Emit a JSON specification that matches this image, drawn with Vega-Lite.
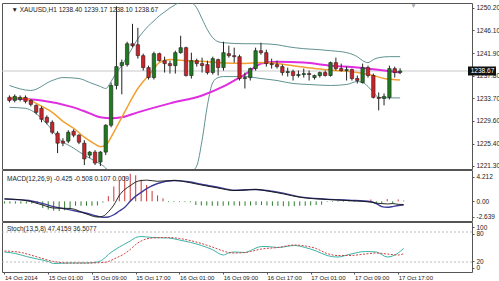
{
"$schema": "https://vega.github.io/schema/vega-lite/v6.json",
"padding": {"left": 1, "top": 2, "right": 0, "bottom": 0},
"background": "white",
"spacing": 1,
"bounds": "flush",
"config": {
  "view": {"stroke": "#555", "strokeWidth": 1},
  "font": "Liberation Sans",
  "axis": {"labelFont": "Liberation Sans", "labelFontSize": 6.5, "labelColor": "#222", "tickColor": "#555", "tickSize": 2, "labelPadding": 2, "domain": false, "grid": false, "title": null, "labelOverlap": false, "labelBound": false},
  "axisY": {"labelOverlap": false},
  "axisRight": {"labelOverlap": false},
  "axisQuantitative": {"labelOverlap": false},
  "text": {"font": "Liberation Sans"}
},
"resolve": {"scale": {"x": "independent", "y": "independent"}},
"datasets": {
  "cd": [
    {"i":0,"o":1233.84,"h":1234.20,"l":1232.93,"c":1233.29},
    {"i":1,"o":1233.29,"h":1234.38,"l":1232.93,"c":1234.02},
    {"i":2,"o":1233.47,"h":1234.20,"l":1233.11,"c":1233.84},
    {"i":3,"o":1233.84,"h":1234.20,"l":1232.75,"c":1233.11},
    {"i":4,"o":1233.29,"h":1233.47,"l":1232.20,"c":1232.56},
    {"i":5,"o":1232.38,"h":1232.56,"l":1230.75,"c":1231.11},
    {"i":6,"o":1231.84,"h":1232.20,"l":1229.29,"c":1229.84},
    {"i":7,"o":1230.20,"h":1230.56,"l":1228.93,"c":1229.29},
    {"i":8,"o":1229.29,"h":1229.65,"l":1227.11,"c":1227.47},
    {"i":9,"o":1227.29,"h":1227.65,"l":1223.65,"c":1225.47},
    {"i":10,"o":1225.84,"h":1226.38,"l":1224.93,"c":1225.47},
    {"i":11,"o":1225.84,"h":1227.84,"l":1225.47,"c":1227.47},
    {"i":12,"o":1227.65,"h":1228.02,"l":1226.56,"c":1226.93},
    {"i":13,"o":1226.93,"h":1227.11,"l":1225.29,"c":1225.65},
    {"i":14,"o":1225.47,"h":1226.02,"l":1221.47,"c":1222.60},
    {"i":15,"o":1223.29,"h":1224.02,"l":1222.75,"c":1223.84},
    {"i":16,"o":1223.84,"h":1224.20,"l":1221.47,"c":1221.84},
    {"i":17,"o":1222.02,"h":1224.02,"l":1221.29,"c":1223.84},
    {"i":18,"o":1223.84,"h":1228.93,"l":1223.29,"c":1228.75},
    {"i":19,"o":1228.75,"h":1236.56,"l":1228.38,"c":1236.02},
    {"i":20,"o":1236.02,"h":1250.50,"l":1235.30,"c":1239.47},
    {"i":21,"o":1239.65,"h":1240.75,"l":1234.40,"c":1240.20},
    {"i":22,"o":1239.84,"h":1244.02,"l":1239.47,"c":1243.65},
    {"i":23,"o":1243.65,"h":1247.29,"l":1243.00,"c":1243.29},
    {"i":24,"o":1243.47,"h":1246.56,"l":1240.93,"c":1241.47},
    {"i":25,"o":1241.47,"h":1241.84,"l":1238.75,"c":1239.29},
    {"i":26,"o":1239.29,"h":1239.65,"l":1237.11,"c":1237.47},
    {"i":27,"o":1237.47,"h":1242.20,"l":1237.11,"c":1241.84},
    {"i":28,"o":1241.84,"h":1242.02,"l":1240.38,"c":1240.56},
    {"i":29,"o":1240.56,"h":1241.29,"l":1238.38,"c":1240.02},
    {"i":30,"o":1240.02,"h":1240.56,"l":1238.20,"c":1239.65},
    {"i":31,"o":1239.65,"h":1242.38,"l":1238.20,"c":1242.02},
    {"i":32,"o":1242.02,"h":1245.11,"l":1241.84,"c":1242.93},
    {"i":33,"o":1242.93,"h":1243.11,"l":1237.65,"c":1237.84},
    {"i":34,"o":1237.84,"h":1242.02,"l":1237.29,"c":1240.56},
    {"i":35,"o":1240.56,"h":1240.93,"l":1239.47,"c":1240.02},
    {"i":36,"o":1240.02,"h":1241.11,"l":1238.38,"c":1239.65},
    {"i":37,"o":1239.84,"h":1240.56,"l":1238.02,"c":1238.38},
    {"i":38,"o":1238.38,"h":1241.29,"l":1238.02,"c":1240.93},
    {"i":39,"o":1240.75,"h":1240.93,"l":1237.84,"c":1239.29},
    {"i":40,"o":1239.29,"h":1244.02,"l":1238.75,"c":1242.02},
    {"i":41,"o":1241.84,"h":1243.29,"l":1241.11,"c":1241.47},
    {"i":42,"o":1241.47,"h":1242.93,"l":1240.20,"c":1241.29},
    {"i":43,"o":1241.29,"h":1241.65,"l":1236.93,"c":1237.29},
    {"i":44,"o":1237.29,"h":1238.38,"l":1235.47,"c":1237.47},
    {"i":45,"o":1237.47,"h":1239.30,"l":1236.93,"c":1239.11},
    {"i":46,"o":1239.11,"h":1242.93,"l":1238.75,"c":1242.38},
    {"i":47,"o":1242.38,"h":1243.84,"l":1241.65,"c":1242.02},
    {"i":48,"o":1242.02,"h":1242.56,"l":1239.47,"c":1240.02},
    {"i":49,"o":1240.02,"h":1240.93,"l":1239.11,"c":1239.84},
    {"i":50,"o":1239.84,"h":1240.56,"l":1239.11,"c":1239.47},
    {"i":51,"o":1239.47,"h":1239.84,"l":1237.84,"c":1238.38},
    {"i":52,"o":1238.38,"h":1239.29,"l":1237.65,"c":1238.56},
    {"i":53,"o":1238.56,"h":1238.93,"l":1236.93,"c":1237.84},
    {"i":54,"o":1237.84,"h":1238.75,"l":1237.47,"c":1238.02},
    {"i":55,"o":1238.02,"h":1239.11,"l":1237.47,"c":1238.20},
    {"i":56,"o":1238.20,"h":1238.75,"l":1236.93,"c":1238.02},
    {"i":57,"o":1237.47,"h":1238.00,"l":1237.11,"c":1237.84},
    {"i":58,"o":1237.84,"h":1238.56,"l":1237.47,"c":1238.38},
    {"i":59,"o":1238.38,"h":1238.75,"l":1237.65,"c":1237.84},
    {"i":60,"o":1237.84,"h":1240.38,"l":1237.65,"c":1240.20},
    {"i":61,"o":1240.20,"h":1241.11,"l":1238.75,"c":1239.11},
    {"i":62,"o":1239.11,"h":1240.02,"l":1238.56,"c":1238.75},
    {"i":63,"o":1238.75,"h":1239.47,"l":1236.93,"c":1238.93},
    {"i":64,"o":1238.93,"h":1239.11,"l":1236.93,"c":1237.29},
    {"i":65,"o":1237.29,"h":1237.84,"l":1236.38,"c":1236.93},
    {"i":66,"o":1236.56,"h":1240.02,"l":1236.38,"c":1239.29},
    {"i":67,"o":1239.29,"h":1239.65,"l":1237.47,"c":1237.84},
    {"i":68,"o":1237.84,"h":1238.20,"l":1233.65,"c":1233.84},
    {"i":69,"o":1233.84,"h":1234.75,"l":1231.47,"c":1233.65},
    {"i":70,"o":1233.65,"h":1234.56,"l":1232.38,"c":1234.02},
    {"i":71,"o":1233.84,"h":1239.65,"l":1233.47,"c":1239.11},
    {"i":72,"o":1239.11,"h":1239.47,"l":1237.47,"c":1238.38},
    {"i":73,"o":1238.40,"h":1239.17,"l":1238.10,"c":1238.67}
  ],
  "pl": [
    {"s":"ema","i":0,"v":1233.84},{"s":"ema","i":3,"v":1233.65},{"s":"ema","i":5,"v":1232.75},{"s":"ema","i":8,"v":1231.11},{"s":"ema","i":10,"v":1229.47},{"s":"ema","i":12,"v":1228.2},{"s":"ema","i":14,"v":1226.56},{"s":"ema","i":16,"v":1225.29},{"s":"ema","i":17,"v":1224.84},{"s":"ema","i":18,"v":1225.11},{"s":"ema","i":19,"v":1226.56},{"s":"ema","i":20,"v":1228.38},{"s":"ema","i":21,"v":1230.2},{"s":"ema","i":22,"v":1232.02},{"s":"ema","i":23,"v":1233.84},{"s":"ema","i":24,"v":1235.47},{"s":"ema","i":25,"v":1236.75},{"s":"ema","i":26,"v":1237.84},{"s":"ema","i":27,"v":1239.11},{"s":"ema","i":28,"v":1240.2},{"s":"ema","i":30,"v":1240.75},{"s":"ema","i":33,"v":1240.56},{"s":"ema","i":37,"v":1240.38},{"s":"ema","i":40,"v":1240.11},{"s":"ema","i":44,"v":1240.02},{"s":"ema","i":47,"v":1240.2},{"s":"ema","i":50,"v":1240.02},{"s":"ema","i":54,"v":1239.47},{"s":"ema","i":57,"v":1239.11},{"s":"ema","i":61,"v":1238.75},{"s":"ema","i":65,"v":1238.38},{"s":"ema","i":68,"v":1237.84},{"s":"ema","i":70,"v":1237.29},{"s":"ema","i":73,"v":1237.02},
    {"s":"sma","i":0,"v":1233.65},{"s":"sma","i":6,"v":1233.29},{"s":"sma","i":12,"v":1232.02},{"s":"sma","i":15,"v":1230.93},{"s":"sma","i":17,"v":1230.2},{"s":"sma","i":19,"v":1230.02},{"s":"sma","i":21,"v":1230.2},{"s":"sma","i":24,"v":1231.11},{"s":"sma","i":30,"v":1232.75},{"s":"sma","i":36,"v":1234.2},{"s":"sma","i":40,"v":1235.84},{"s":"sma","i":42,"v":1236.93},{"s":"sma","i":44,"v":1238.02},{"s":"sma","i":45,"v":1238.75},{"s":"sma","i":46,"v":1239.47},{"s":"sma","i":47,"v":1240.02},{"s":"sma","i":50,"v":1240.38},{"s":"sma","i":55,"v":1240.2},{"s":"sma","i":60,"v":1239.65},{"s":"sma","i":65,"v":1239.29},{"s":"sma","i":70,"v":1238.75},{"s":"sma","i":73,"v":1238.38},
    {"s":"bbu","i":0,"v":1236.02},{"s":"bbu","i":4,"v":1235.11},{"s":"bbu","i":8,"v":1236.93},{"s":"bbu","i":10,"v":1237.47},{"s":"bbu","i":13,"v":1237.29},{"s":"bbu","i":15,"v":1236.56},{"s":"bbu","i":17,"v":1235.84},{"s":"bbu","i":18,"v":1235.47},{"s":"bbu","i":19,"v":1236.75},{"s":"bbu","i":20,"v":1238.38},{"s":"bbu","i":21,"v":1239.65},{"s":"bbu","i":22,"v":1241.29},{"s":"bbu","i":23,"v":1242.93},{"s":"bbu","i":24,"v":1244.56},{"s":"bbu","i":25,"v":1245.84},{"s":"bbu","i":26,"v":1246.93},{"s":"bbu","i":27,"v":1247.84},{"s":"bbu","i":28,"v":1248.75},{"s":"bbu","i":29,"v":1249.47},{"s":"bbu","i":30,"v":1250.2},{"s":"bbu","i":31,"v":1250.8},{"s":"bbu","i":32,"v":1251.3},{"s":"bbu","i":33,"v":1251.4},{"s":"bbu","i":34,"v":1251.2},{"s":"bbu","i":35,"v":1250.2},{"s":"bbu","i":36,"v":1248.2},{"s":"bbu","i":37,"v":1246.2},{"s":"bbu","i":38,"v":1244.75},{"s":"bbu","i":39,"v":1244.02},{"s":"bbu","i":40,"v":1243.84},{"s":"bbu","i":44,"v":1243.65},{"s":"bbu","i":47,"v":1243.65},{"s":"bbu","i":50,"v":1243.47},{"s":"bbu","i":52,"v":1243.11},{"s":"bbu","i":55,"v":1242.75},{"s":"bbu","i":58,"v":1242.56},{"s":"bbu","i":60,"v":1242.38},{"s":"bbu","i":63,"v":1242.02},{"s":"bbu","i":65,"v":1241.29},{"s":"bbu","i":66,"v":1240.56},{"s":"bbu","i":67,"v":1240.2},{"s":"bbu","i":68,"v":1240.75},{"s":"bbu","i":69,"v":1241.11},{"s":"bbu","i":71,"v":1241.29},{"s":"bbu","i":73,"v":1241.29},
    {"s":"bbl","i":0,"v":1232.02},{"s":"bbl","i":3,"v":1231.84},{"s":"bbl","i":6,"v":1230.02},{"s":"bbl","i":8,"v":1227.84},{"s":"bbl","i":9,"v":1226.56},{"s":"bbl","i":12,"v":1224.56},{"s":"bbl","i":14,"v":1223.29},{"s":"bbl","i":16,"v":1222.2},{"s":"bbl","i":17,"v":1221.65},{"s":"bbl","i":18,"v":1220.93},{"s":"bbl","i":19,"v":1219.47},{"s":"bbl","i":21,"v":1216.9},{"s":"bbl","i":23,"v":1215.1},{"s":"bbl","i":25,"v":1213.6},{"s":"bbl","i":28,"v":1214.2},{"s":"bbl","i":31,"v":1216.9},{"s":"bbl","i":34,"v":1220.2},{"s":"bbl","i":35,"v":1221.3},{"s":"bbl","i":36,"v":1226.0},{"s":"bbl","i":37,"v":1232.4},{"s":"bbl","i":38,"v":1236.56},{"s":"bbl","i":39,"v":1237.47},{"s":"bbl","i":40,"v":1237.65},{"s":"bbl","i":44,"v":1237.65},{"s":"bbl","i":47,"v":1237.29},{"s":"bbl","i":50,"v":1236.93},{"s":"bbl","i":53,"v":1236.38},{"s":"bbl","i":56,"v":1236.2},{"s":"bbl","i":60,"v":1236.02},{"s":"bbl","i":63,"v":1236.2},{"s":"bbl","i":65,"v":1236.75},{"s":"bbl","i":66,"v":1236.56},{"s":"bbl","i":67,"v":1235.84},{"s":"bbl","i":68,"v":1234.75},{"s":"bbl","i":69,"v":1233.84},{"s":"bbl","i":71,"v":1233.75},{"s":"bbl","i":73,"v":1233.75}
  ],
  "last": [{"i": 86.2, "ib": 88.3, "v": 1238.67, "t": "1238.67"}],
  "ph": [
    {"i": 0.37, "v": 1249.84, "t": "▼ XAUUSD,H1 1238.40 1239.17 1238.10 1238.67"},
    {"i": 74.9, "v": 1250.6, "t": "▼"}
  ],
  "mh": [
    {"i":0,"h":-0.3},{"i":1,"h":-0.3},{"i":2,"h":-0.3},{"i":3,"h":-0.3},{"i":4,"h":-0.3},{"i":5,"h":-0.3},{"i":6,"h":-0.35},
    {"i":7,"h":-0.9},{"i":8,"h":-1.1},{"i":9,"h":-1.25},{"i":10,"h":-1.3},{"i":11,"h":-1.2},{"i":12,"h":-1.0},
    {"i":13,"h":-0.6},{"i":14,"h":-0.6},{"i":15,"h":-0.6},{"i":16,"h":-0.6},{"i":17,"h":-0.55},{"i":18,"h":-0.15},
    {"i":19,"h":0.7},{"i":20,"h":2.0},{"i":21,"h":2.8},{"i":22,"h":3.4},{"i":23,"h":3.7},{"i":24,"h":3.5},{"i":25,"h":2.9},{"i":26,"h":2.2},{"i":27,"h":1.4},{"i":28,"h":0.8},{"i":29,"h":0.4},
    {"i":30,"h":-0.1},{"i":31,"h":-0.1},{"i":32,"h":-0.1},{"i":33,"h":-0.1},{"i":34,"h":-0.12},
    {"i":35,"h":-0.5},{"i":36,"h":-0.55},{"i":37,"h":-0.55},{"i":38,"h":-0.6},{"i":39,"h":-0.6},{"i":40,"h":-0.6},{"i":41,"h":-0.55},{"i":42,"h":-0.55},{"i":43,"h":-0.6},{"i":44,"h":-0.6},{"i":45,"h":-0.55},{"i":46,"h":-0.5},{"i":47,"h":-0.5},{"i":48,"h":-0.55},{"i":49,"h":-0.6},{"i":50,"h":-0.6},{"i":51,"h":-0.65},{"i":52,"h":-0.65},{"i":53,"h":-0.65},{"i":54,"h":-0.6},{"i":55,"h":-0.6},{"i":56,"h":-0.55},{"i":57,"h":-0.5},{"i":58,"h":-0.45},
    {"i":59,"h":-0.08},{"i":60,"h":-0.08},{"i":61,"h":-0.08},{"i":62,"h":-0.08},{"i":63,"h":-0.08},{"i":64,"h":-0.08},{"i":65,"h":-0.08},{"i":66,"h":-0.08},
    {"i":67,"h":0.25},{"i":68,"h":-0.3},{"i":69,"h":-0.35},{"i":70,"h":0.3},{"i":71,"h":-0.3},{"i":72,"h":0.25},{"i":73,"h":0.107}
  ],
  "ml": [
    {"s":"main","i":0,"v":0.35},{"s":"main","i":4,"v":0.1},{"s":"main","i":7,"v":-0.5},{"s":"main","i":9,"v":-0.9},{"s":"main","i":12,"v":-0.95},{"s":"main","i":15,"v":-1.7},{"s":"main","i":17,"v":-2.1},{"s":"main","i":18,"v":-2.0},{"s":"main","i":19,"v":-1.4},{"s":"main","i":20,"v":-0.5},{"s":"main","i":21,"v":0.8},{"s":"main","i":22,"v":1.6},{"s":"main","i":23,"v":2.1},{"s":"main","i":24,"v":2.6},{"s":"main","i":25,"v":2.8},{"s":"main","i":26,"v":2.85},{"s":"main","i":28,"v":2.7},{"s":"main","i":31,"v":2.8},{"s":"main","i":34,"v":2.5},{"s":"main","i":36,"v":2.2},{"s":"main","i":39,"v":1.8},{"s":"main","i":42,"v":1.45},{"s":"main","i":44,"v":1.5},{"s":"main","i":46,"v":1.6},{"s":"main","i":48,"v":1.4},{"s":"main","i":51,"v":1.0},{"s":"main","i":54,"v":0.55},{"s":"main","i":59,"v":0.25},{"s":"main","i":63,"v":0.1},{"s":"main","i":67,"v":-0.1},{"s":"main","i":68,"v":-0.25},{"s":"main","i":69,"v":-0.3},{"s":"main","i":70,"v":-0.35},{"s":"main","i":71,"v":-0.3},{"s":"main","i":72,"v":-0.4},{"s":"main","i":73,"v":-0.425},
    {"s":"sig","i":0,"v":0.3},{"s":"sig","i":4,"v":0.15},{"s":"sig","i":7,"v":-0.3},{"s":"sig","i":9,"v":-0.7},{"s":"sig","i":12,"v":-1.15},{"s":"sig","i":15,"v":-1.6},{"s":"sig","i":17,"v":-2.0},{"s":"sig","i":18,"v":-2.15},{"s":"sig","i":19,"v":-2.1},{"s":"sig","i":20,"v":-1.8},{"s":"sig","i":21,"v":-1.3},{"s":"sig","i":22,"v":-0.8},{"s":"sig","i":23,"v":0.0},{"s":"sig","i":24,"v":0.7},{"s":"sig","i":25,"v":1.2},{"s":"sig","i":26,"v":1.7},{"s":"sig","i":28,"v":2.4},{"s":"sig","i":31,"v":2.8},{"s":"sig","i":34,"v":2.6},{"s":"sig","i":36,"v":2.3},{"s":"sig","i":39,"v":1.9},{"s":"sig","i":42,"v":1.5},{"s":"sig","i":44,"v":1.55},{"s":"sig","i":46,"v":1.6},{"s":"sig","i":48,"v":1.45},{"s":"sig","i":51,"v":1.1},{"s":"sig","i":54,"v":0.6},{"s":"sig","i":59,"v":0.3},{"s":"sig","i":63,"v":0.15},{"s":"sig","i":67,"v":-0.05},{"s":"sig","i":68,"v":-0.3},{"s":"sig","i":69,"v":-0.7},{"s":"sig","i":70,"v":-0.8},{"s":"sig","i":71,"v":-0.7},{"s":"sig","i":72,"v":-0.55},{"s":"sig","i":73,"v":-0.508}
  ],
  "mt": [{"i": 0.46, "v": 3.0, "t": "MACD(12,26,9) -0.425 -0.508 0.107 0.009"}],
  "st": [
    {"s":"k","i":0,"v":40},{"s":"k","i":2,"v":37},{"s":"k","i":4,"v":31},{"s":"k","i":6,"v":26},{"s":"k","i":8,"v":21},{"s":"k","i":9,"v":17},{"s":"k","i":12,"v":18},{"s":"k","i":15,"v":18},{"s":"k","i":17,"v":20},{"s":"k","i":18,"v":25},{"s":"k","i":19,"v":35},{"s":"k","i":20,"v":43},{"s":"k","i":22,"v":56},{"s":"k","i":23,"v":62},{"s":"k","i":24,"v":69},{"s":"k","i":25,"v":71},{"s":"k","i":27,"v":69},{"s":"k","i":30,"v":68},{"s":"k","i":32,"v":64},{"s":"k","i":36,"v":53},{"s":"k","i":38,"v":45},{"s":"k","i":40,"v":34},{"s":"k","i":41,"v":38},{"s":"k","i":42,"v":40},{"s":"k","i":44,"v":39},{"s":"k","i":45,"v":43},{"s":"k","i":47,"v":51},{"s":"k","i":48,"v":51},{"s":"k","i":50,"v":49},{"s":"k","i":53,"v":53},{"s":"k","i":55,"v":49},{"s":"k","i":57,"v":42},{"s":"k","i":59,"v":33},{"s":"k","i":61,"v":30},{"s":"k","i":63,"v":35},{"s":"k","i":66,"v":41},{"s":"k","i":68,"v":40},{"s":"k","i":70,"v":30},{"s":"k","i":72,"v":38},{"s":"k","i":73,"v":47.4159},
    {"s":"d","i":0,"v":42},{"s":"d","i":3,"v":39},{"s":"d","i":6,"v":30},{"s":"d","i":9,"v":21},{"s":"d","i":12,"v":18},{"s":"d","i":15,"v":18},{"s":"d","i":18,"v":19},{"s":"d","i":19,"v":21},{"s":"d","i":20,"v":26},{"s":"d","i":22,"v":37},{"s":"d","i":23,"v":45},{"s":"d","i":24,"v":55},{"s":"d","i":25,"v":62},{"s":"d","i":27,"v":68},{"s":"d","i":30,"v":69},{"s":"d","i":32,"v":67},{"s":"d","i":36,"v":57},{"s":"d","i":38,"v":50},{"s":"d","i":40,"v":42},{"s":"d","i":41,"v":39},{"s":"d","i":42,"v":38},{"s":"d","i":44,"v":39},{"s":"d","i":45,"v":41},{"s":"d","i":47,"v":46},{"s":"d","i":50,"v":49},{"s":"d","i":53,"v":54},{"s":"d","i":55,"v":52},{"s":"d","i":57,"v":47},{"s":"d","i":59,"v":37},{"s":"d","i":61,"v":33},{"s":"d","i":63,"v":33},{"s":"d","i":66,"v":36},{"s":"d","i":68,"v":38},{"s":"d","i":70,"v":36},{"s":"d","i":72,"v":34},{"s":"d","i":73,"v":36.5077}
  ],
  "lv": [{"lv": 80}, {"lv": 20}],
  "stt": [{"i": 0.46, "v": 86, "t": "Stoch(13,5,8) 47.4159 36.5077"}]
},
"vconcat": [
  {
    "width": 470, "height": 166,
    "layer": [
      {"data": {"name": "last"}, "mark": {"type": "rule", "color": "#c8c8c8", "strokeWidth": 1},
       "encoding": {"y": {"field": "v", "type": "quantitative", "scale": {"domain": [1220.75, 1251.1], "nice": false, "zero": false},
         "axis": {"orient": "right", "values": [1221.3, 1225.4, 1229.6, 1233.7, 1237.8, 1241.9, 1246.1, 1250.2], "format": ".2f", "labelOverlap": false, "labelBound": false}}}},
      {"data": {"name": "pl"}, "transform": [{"filter": "datum.s == 'bbu' || datum.s == 'bbl'"}],
       "mark": {"type": "line", "color": "#4f8585", "strokeWidth": 0.9, "clip": true, "interpolate": "monotone"},
       "encoding": {"x": {"field": "i", "type": "quantitative", "scale": {"domain": [-0.45, 85.5], "nice": false, "zero": false}, "axis": null},
         "y": {"field": "v", "type": "quantitative", "scale": {"domain": [1220.75, 1251.1], "nice": false, "zero": false}, "axis": {"orient": "right", "values": [1221.3, 1225.4, 1229.6, 1233.7, 1237.8, 1241.9, 1246.1, 1250.2], "format": ".2f", "labelOverlap": false, "labelBound": false}},
         "detail": {"field": "s"}}},
      {"data": {"name": "pl"}, "transform": [{"filter": "datum.s == 'sma'"}],
       "mark": {"type": "line", "color": "#e02de0", "strokeWidth": 2, "clip": true, "interpolate": "monotone"},
       "encoding": {"x": {"field": "i", "type": "quantitative", "scale": {"domain": [-0.45, 85.5], "nice": false, "zero": false}, "axis": null},
         "y": {"field": "v", "type": "quantitative", "scale": {"domain": [1220.75, 1251.1], "nice": false, "zero": false}, "axis": {"orient": "right", "values": [1221.3, 1225.4, 1229.6, 1233.7, 1237.8, 1241.9, 1246.1, 1250.2], "format": ".2f", "labelOverlap": false, "labelBound": false}}}},
      {"data": {"name": "pl"}, "transform": [{"filter": "datum.s == 'ema'"}],
       "mark": {"type": "line", "color": "#f2a030", "strokeWidth": 1.5, "clip": true, "interpolate": "monotone"},
       "encoding": {"x": {"field": "i", "type": "quantitative", "scale": {"domain": [-0.45, 85.5], "nice": false, "zero": false}, "axis": null},
         "y": {"field": "v", "type": "quantitative", "scale": {"domain": [1220.75, 1251.1], "nice": false, "zero": false}, "axis": {"orient": "right", "values": [1221.3, 1225.4, 1229.6, 1233.7, 1237.8, 1241.9, 1246.1, 1250.2], "format": ".2f", "labelOverlap": false, "labelBound": false}}}},
      {"data": {"name": "cd"}, "mark": {"type": "rule", "color": "#222", "strokeWidth": 1},
       "encoding": {"x": {"field": "i", "type": "quantitative", "scale": {"domain": [-0.45, 85.5], "nice": false, "zero": false}, "axis": null},
         "y": {"field": "l", "type": "quantitative", "scale": {"domain": [1220.75, 1251.1], "nice": false, "zero": false}, "axis": {"orient": "right", "values": [1221.3, 1225.4, 1229.6, 1233.7, 1237.8, 1241.9, 1246.1, 1250.2], "format": ".2f", "labelOverlap": false, "labelBound": false}},
         "y2": {"field": "h"}}},
      {"data": {"name": "cd"}, "mark": {"type": "bar", "width": 3.4, "stroke": "#222", "strokeWidth": 0.6},
       "encoding": {"x": {"field": "i", "type": "quantitative", "scale": {"domain": [-0.45, 85.5], "nice": false, "zero": false}, "axis": null},
         "y": {"field": "o", "type": "quantitative", "scale": {"domain": [1220.75, 1251.1], "nice": false, "zero": false}, "axis": {"orient": "right", "values": [1221.3, 1225.4, 1229.6, 1233.7, 1237.8, 1241.9, 1246.1, 1250.2], "format": ".2f", "labelOverlap": false, "labelBound": false}},
         "y2": {"field": "c"},
         "fill": {"condition": {"test": "datum.c >= datum.o", "value": "#1e7b1e"}, "value": "#cc2229"}}},
      {"data": {"name": "ph"}, "mark": {"type": "text", "align": "left", "baseline": "middle", "fontSize": 6.5},
       "encoding": {"x": {"field": "i", "type": "quantitative", "scale": {"domain": [-0.45, 85.5], "nice": false, "zero": false}, "axis": null},
         "y": {"field": "v", "type": "quantitative", "scale": {"domain": [1220.75, 1251.1], "nice": false, "zero": false}, "axis": {"orient": "right", "values": [1221.3, 1225.4, 1229.6, 1233.7, 1237.8, 1241.9, 1246.1, 1250.2], "format": ".2f", "labelOverlap": false, "labelBound": false}},
         "text": {"field": "t"},
         "color": {"condition": {"test": "datum.t == '▼'", "value": "#aaaaaa"}, "value": "#222222"}}},
      {"data": {"name": "last"}, "mark": {"type": "tick", "orient": "horizontal", "size": 28, "thickness": 9, "color": "#111", "opacity": 1, "clip": false},
       "encoding": {"x": {"field": "ib", "type": "quantitative", "scale": {"domain": [-0.45, 85.5], "nice": false, "zero": false}, "axis": null},
         "y": {"field": "v", "type": "quantitative", "scale": {"domain": [1220.75, 1251.1], "nice": false, "zero": false}, "axis": {"orient": "right", "values": [1221.3, 1225.4, 1229.6, 1233.7, 1237.8, 1241.9, 1246.1, 1250.2], "format": ".2f", "labelOverlap": false, "labelBound": false}}}},
      {"data": {"name": "last"}, "mark": {"type": "text", "align": "left", "baseline": "middle", "fontSize": 6.5, "color": "white", "clip": false},
       "encoding": {"x": {"field": "i", "type": "quantitative", "scale": {"domain": [-0.45, 85.5], "nice": false, "zero": false}, "axis": null},
         "y": {"field": "v", "type": "quantitative", "scale": {"domain": [1220.75, 1251.1], "nice": false, "zero": false}, "axis": {"orient": "right", "values": [1221.3, 1225.4, 1229.6, 1233.7, 1237.8, 1241.9, 1246.1, 1250.2], "format": ".2f", "labelOverlap": false, "labelBound": false}},
         "text": {"field": "t"}}}
    ]
  },
  {
    "width": 470, "height": 51,
    "layer": [
      {"data": {"name": "mh"}, "mark": {"type": "rule", "strokeWidth": 1},
       "encoding": {"x": {"field": "i", "type": "quantitative", "scale": {"domain": [-0.45, 85.5], "nice": false, "zero": false}, "axis": null},
         "y": {"field": "h", "type": "quantitative", "scale": {"domain": [-2.639, 4.212], "nice": false, "zero": false},
           "axis": {"orient": "right", "values": [-2.1, 0, 3.3], "labelOverlap": false, "labelBound": false, "labelExpr": "datum.value > 3 ? '4.212' : (datum.value < -2 ? '-2.639' : '0.00')"}},
         "y2": {"datum": 0},
         "color": {"condition": {"test": "datum.h > 0", "value": "#cc3333"}, "value": "#2f7f2f"}}},
      {"data": {"name": "ml"}, "transform": [{"filter": "datum.s == 'sig'"}],
       "mark": {"type": "line", "color": "#3d3d96", "strokeWidth": 1.4, "interpolate": "monotone"},
       "encoding": {"x": {"field": "i", "type": "quantitative", "scale": {"domain": [-0.45, 85.5], "nice": false, "zero": false}, "axis": null},
         "y": {"field": "v", "type": "quantitative", "scale": {"domain": [-2.639, 4.212], "nice": false, "zero": false},
           "axis": {"orient": "right", "values": [-2.1, 0, 3.3], "labelOverlap": false, "labelBound": false, "labelExpr": "datum.value > 3 ? '4.212' : (datum.value < -2 ? '-2.639' : '0.00')"}}}},
      {"data": {"name": "ml"}, "transform": [{"filter": "datum.s == 'main'"}],
       "mark": {"type": "line", "color": "#111111", "strokeWidth": 0.9, "interpolate": "monotone"},
       "encoding": {"x": {"field": "i", "type": "quantitative", "scale": {"domain": [-0.45, 85.5], "nice": false, "zero": false}, "axis": null},
         "y": {"field": "v", "type": "quantitative", "scale": {"domain": [-2.639, 4.212], "nice": false, "zero": false},
           "axis": {"orient": "right", "values": [-2.1, 0, 3.3], "labelOverlap": false, "labelBound": false, "labelExpr": "datum.value > 3 ? '4.212' : (datum.value < -2 ? '-2.639' : '0.00')"}}}},
      {"data": {"name": "mt"}, "mark": {"type": "text", "align": "left", "baseline": "middle", "fontSize": 6.5, "color": "#222"},
       "encoding": {"x": {"field": "i", "type": "quantitative", "scale": {"domain": [-0.45, 85.5], "nice": false, "zero": false}, "axis": null},
         "y": {"field": "v", "type": "quantitative", "scale": {"domain": [-2.639, 4.212], "nice": false, "zero": false},
           "axis": {"orient": "right", "values": [-2.1, 0, 3.3], "labelOverlap": false, "labelBound": false, "labelExpr": "datum.value > 3 ? '4.212' : (datum.value < -2 ? '-2.639' : '0.00')"}},
         "text": {"field": "t"}}}
    ]
  },
  {
    "width": 470, "height": 50,
    "layer": [
      {"data": {"name": "lv"}, "mark": {"type": "rule", "color": "#aaaaaa", "strokeWidth": 0.8, "strokeDash": [2, 2]},
       "encoding": {"y": {"field": "lv", "type": "quantitative", "scale": {"domain": [0, 100], "nice": false, "zero": false},
         "axis": {"orient": "right", "values": [9, 22, 77, 90], "labelOverlap": false, "labelBound": false, "labelExpr": "datum.value > 85 ? '100' : (datum.value > 50 ? '80' : (datum.value > 15 ? '20' : '0'))"}}}},
      {"data": {"name": "st"}, "transform": [{"filter": "datum.s == 'k'"}],
       "mark": {"type": "line", "color": "#3cb3a8", "strokeWidth": 1, "interpolate": "monotone"},
       "encoding": {"x": {"field": "i", "type": "quantitative", "scale": {"domain": [-0.45, 85.5], "nice": false, "zero": false},
           "axis": {"orient": "bottom", "values": [0, 8, 16, 24, 32, 40, 48, 56, 64, 72], "labelAlign": "left", "labelBaseline": "top", "labelPadding": 0, "tickSize": 2, "labelFontSize": 6, "labelFlush": false, "labelOverlap": false,
             "labelExpr": "['14 Oct 2014','15 Oct 01:00','15 Oct 09:00','15 Oct 17:00','16 Oct 01:00','16 Oct 09:00','16 Oct 17:00','17 Oct 01:00','17 Oct 09:00','17 Oct 17:00'][round(datum.value/8)]"}},
         "y": {"field": "v", "type": "quantitative", "scale": {"domain": [0, 100], "nice": false, "zero": false},
           "axis": {"orient": "right", "values": [9, 22, 77, 90], "labelOverlap": false, "labelBound": false, "labelExpr": "datum.value > 85 ? '100' : (datum.value > 50 ? '80' : (datum.value > 15 ? '20' : '0'))"}}}},
      {"data": {"name": "st"}, "transform": [{"filter": "datum.s == 'd'"}],
       "mark": {"type": "line", "color": "#d04040", "strokeWidth": 1, "strokeDash": [2, 1.5], "interpolate": "monotone"},
       "encoding": {"x": {"field": "i", "type": "quantitative", "scale": {"domain": [-0.45, 85.5], "nice": false, "zero": false}},
         "y": {"field": "v", "type": "quantitative", "scale": {"domain": [0, 100], "nice": false, "zero": false},
           "axis": {"orient": "right", "values": [9, 22, 77, 90], "labelOverlap": false, "labelBound": false, "labelExpr": "datum.value > 85 ? '100' : (datum.value > 50 ? '80' : (datum.value > 15 ? '20' : '0'))"}}}},
      {"data": {"name": "stt"}, "mark": {"type": "text", "align": "left", "baseline": "middle", "fontSize": 6.5, "color": "#222"},
       "encoding": {"x": {"field": "i", "type": "quantitative", "scale": {"domain": [-0.45, 85.5], "nice": false, "zero": false}},
         "y": {"field": "v", "type": "quantitative", "scale": {"domain": [0, 100], "nice": false, "zero": false},
           "axis": {"orient": "right", "values": [9, 22, 77, 90], "labelOverlap": false, "labelBound": false, "labelExpr": "datum.value > 85 ? '100' : (datum.value > 50 ? '80' : (datum.value > 15 ? '20' : '0'))"}},
         "text": {"field": "t"}}}
    ]
  }
]
}
